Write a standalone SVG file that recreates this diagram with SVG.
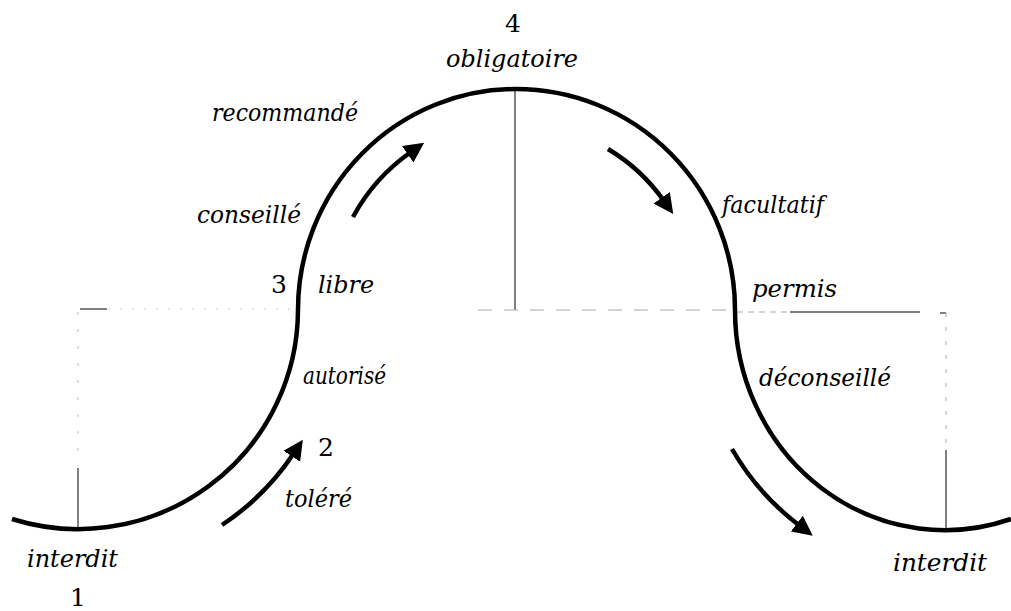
<svg xmlns="http://www.w3.org/2000/svg" width="1011" height="611" viewBox="0 0 1011 611">
<style>
.curve{fill:none;stroke:#000;stroke-width:4.5}
.arrow{fill:none;stroke:#000;stroke-width:4.5;marker-end:url(#head)}
.guide{fill:none;stroke:#000;stroke-width:1}
.faint{fill:none;stroke:#888;stroke-width:1;stroke-dasharray:6 5}
.lbl{font-family:'DejaVu Serif','Liberation Serif',serif;font-style:italic;font-size:24px;fill:#000}
.num{font-family:'DejaVu Serif','Liberation Serif',serif;font-size:25px;fill:#000}
</style>
<defs>
<marker id="head" markerUnits="userSpaceOnUse" markerWidth="24" markerHeight="22" refX="4" refY="10" orient="auto">
<path d="M0,0 L20,10 L0,20 z" fill="#000"/>
</marker>
</defs>
<g id="guides">
<line class="guide" x1="78" y1="468" x2="78" y2="530"/>
<line class="faint" x1="78" y1="312" x2="78" y2="466" style="stroke:#bbb;stroke-dasharray:3 14"/>
<line class="guide" x1="80" y1="309" x2="107" y2="309"/>
<line class="faint" x1="108" y1="309" x2="296" y2="309" style="stroke:#ccc;stroke-dasharray:2 10"/>
<line class="guide" x1="515" y1="90" x2="515" y2="310"/>
<line class="faint" x1="478" y1="310" x2="735" y2="310" style="stroke:#aaa;stroke-dasharray:14 12"/>
<line class="faint" x1="737" y1="312" x2="790" y2="312" style="stroke:#aaa"/>
<line class="guide" x1="790" y1="312" x2="920" y2="312"/>
<line class="guide" x1="940" y1="313" x2="946" y2="313"/>
<line class="faint" x1="946" y1="313" x2="946" y2="450" style="stroke:#aaa;stroke-dasharray:4 10"/>
<line class="guide" x1="946" y1="450" x2="946" y2="530"/>
</g>
<g id="curve">
<path class="curve" d="M12,519 A220,220 0 0 0 298,310 A218,221 0 0 1 516,89 A219,221 0 0 1 735,310 A210,220 0 0 0 1011,519"/>
</g>
<g id="connectors">
<path class="arrow" d="M222,525 A258,258 0 0 0 294,453"/>
<path class="arrow" d="M353,217 A188,188 0 0 1 411,152"/>
<path class="arrow" d="M608,149 A184,184 0 0 1 664,201"/>
<path class="arrow" d="M732,449 A257,257 0 0 0 800,526"/>
</g>
<g id="n4"><text class="num" x="513" y="32" text-anchor="middle">4</text></g>
<g id="obligatoire"><text class="lbl" x="512" y="67" text-anchor="middle" textLength="132" lengthAdjust="spacingAndGlyphs">obligatoire</text></g>
<g id="recommande"><text class="lbl" x="212" y="121" textLength="146" lengthAdjust="spacingAndGlyphs">recommandé</text></g>
<g id="conseille"><text class="lbl" x="197" y="223" textLength="104" lengthAdjust="spacingAndGlyphs">conseillé</text></g>
<g id="n3"><text class="num" x="271" y="293">3</text></g>
<g id="libre"><text class="lbl" x="318" y="293" textLength="56" lengthAdjust="spacingAndGlyphs">libre</text></g>
<g id="autorise"><text class="lbl" x="303" y="384" textLength="83" lengthAdjust="spacingAndGlyphs">autorisé</text></g>
<g id="n2"><text class="num" x="318" y="456">2</text></g>
<g id="tolere"><text class="lbl" x="285" y="507" textLength="67" lengthAdjust="spacingAndGlyphs">toléré</text></g>
<g id="interdit1"><text class="lbl" x="27" y="567" textLength="91" lengthAdjust="spacingAndGlyphs">interdit</text></g>
<g id="n1"><text class="num" x="78" y="606" text-anchor="middle">1</text></g>
<g id="facultatif"><text class="lbl" x="722" y="213" textLength="102" lengthAdjust="spacingAndGlyphs">facultatif</text></g>
<g id="permis"><text class="lbl" x="752" y="297" textLength="85" lengthAdjust="spacingAndGlyphs">permis</text></g>
<g id="deconseille"><text class="lbl" x="759" y="386" textLength="132" lengthAdjust="spacingAndGlyphs">déconseillé</text></g>
<g id="interdit2"><text class="lbl" x="893" y="571" textLength="94" lengthAdjust="spacingAndGlyphs">interdit</text></g>
</svg>
